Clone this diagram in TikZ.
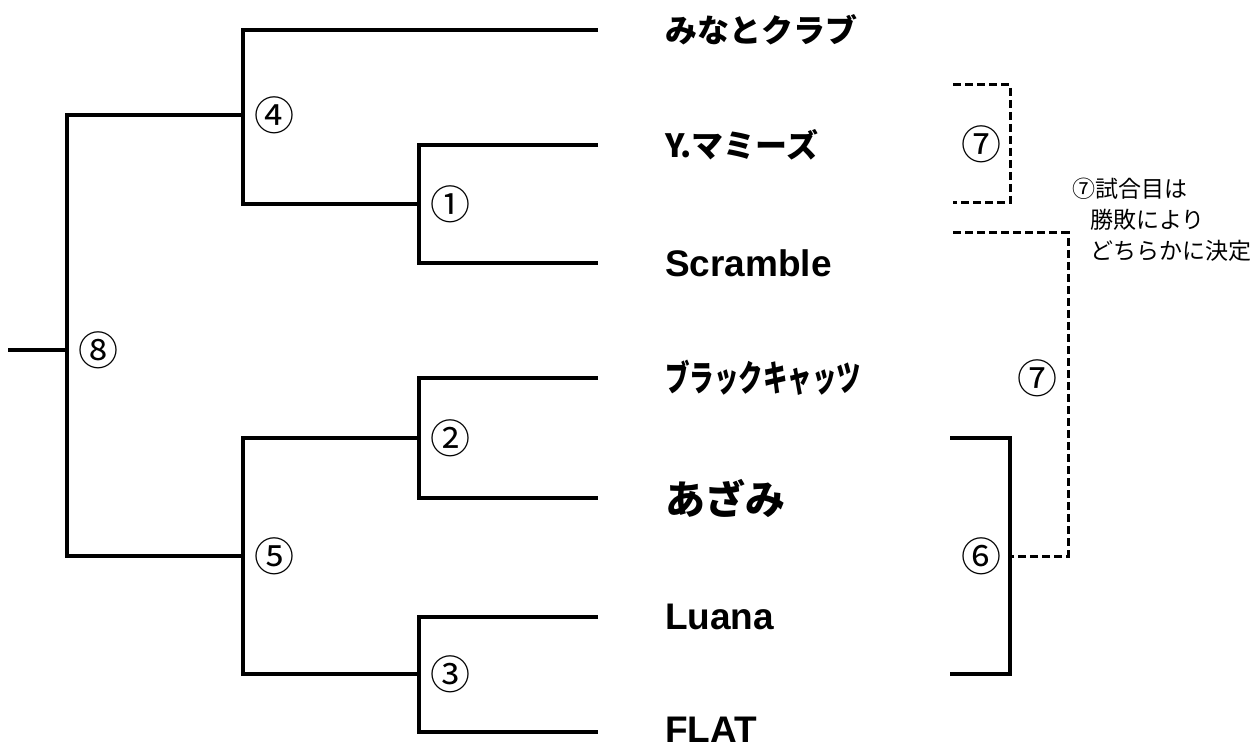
\documentclass[tikz,border=0pt]{standalone}
\usepackage{fontspec}
\newfontfamily\jpfont{Noto Sans CJK JP}
\newfontfamily\lafont{Liberation Sans}
\usetikzlibrary{positioning}

\tikzstyle{team} = [anchor=west, inner sep=0pt,
    font=\jpfont\bfseries\fontsize{32}{36}\selectfont]
\tikzstyle{latin} = [team, font=\lafont\bfseries\fontsize{37}{40}\selectfont]
\tikzstyle{num} = [inner sep=0pt, font=\jpfont\fontsize{40}{44}\selectfont]
\tikzstyle{note} = [align=left, inner sep=0pt, font=\jpfont\fontsize{23}{31}\selectfont]
\tikzstyle{line} = [draw, line width=3.5pt]
\tikzstyle{maybe} = [draw, line width=3pt, dash pattern=on 8pt off 4pt]

\begin{document}
\begin{tikzpicture}[x=1pt, y=-1pt, node distance=67pt]
    \useasboundingbox (0,0) rectangle (1258,751);

    % ends of the team lines
    \coordinate (m1) at (598,30);
    \coordinate (m2) at (598,145);
    \coordinate (m3) at (598,263);
    \coordinate (m4) at (598,378);
    \coordinate (m5) at (598,498);
    \coordinate (m6) at (598,617);
    \coordinate (m7) at (598,732);

    \node [team, right=of m1] (minato) {みなとクラブ};
    \node [team, right=of m2] (mamys) {Y.マミーズ};
    \node [latin, right=of m3] (scramble) {Scramble};
    \node [team, right=of m4, font=\jpfont\bfseries\fontsize{36}{40}\selectfont] (cats) {\scalebox{0.68}[1]{ブラックキャッツ}};
    \node [team, right=of m5, font=\jpfont\bfseries\fontsize{40}{44}\selectfont] (azami) {あざみ};
    \node [latin, right=of m6] (luana) {Luana};
    \node [latin, right=of m7, yshift=2pt] (flat) {FLAT};

    % junctions
    \coordinate (j1) at (419,204);
    \coordinate (j2) at (419,438);
    \coordinate (j3) at (419,674);
    \coordinate (j4) at (243,115);
    \coordinate (j5) at (243,556);
    \coordinate (j8) at (67,350);
    \coordinate (w) at (8,350);

    \path [line] (m2) -| (j1) |- (m3);
    \path [line] (m4) -| (j2) |- (m5);
    \path [line] (m6) -| (j3) |- (m7);
    \path [line] (m1) -| (j4) |- (j1);
    \path [line] (j2) -| (j5) |- (j3);
    \path [line] (j4) -| (j8) |- (j5);
    \path [line] (w) -- (j8);

    \node [num, right=11pt of j1] (n1) {①};
    \node [num, right=11pt of j2] (n2) {②};
    \node [num, right=11pt of j3] (n3) {③};
    \node [num, right=11pt of j4] (n4) {④};
    \node [num, right=11pt of j5] (n5) {⑤};
    \node [num, right=11pt of j8] (n8) {⑧};

    % right side
    \coordinate (s1) at (950,438);
    \coordinate (j6) at (1010,556);
    \coordinate (s2) at (950,674);
    \path [line] (s1) -| (j6) |- (s2);
    \node [num, left=8pt of j6] (n6) {⑥};

    \coordinate (d1) at (953,85);
    \coordinate (j7) at (1010,144);
    \coordinate (d2) at (953,203);
    \path [maybe] (d1) -| (j7) |- (d2);
    \node [num, left=8pt of j7] (n7a) {⑦};

    \coordinate (d3) at (953,233);
    \coordinate (k7) at (1068,378);
    \path [maybe] (d3) -| (k7) |- (j6);
    \node [num, left=10pt of k7] (n7b) {⑦};

    \node [note, anchor=base west] (memo) at (1072,260)
        {⑦試合目は\\\hspace*{18pt}勝敗により\\\hspace*{18pt}どちらかに決定};
\end{tikzpicture}
\end{document}
